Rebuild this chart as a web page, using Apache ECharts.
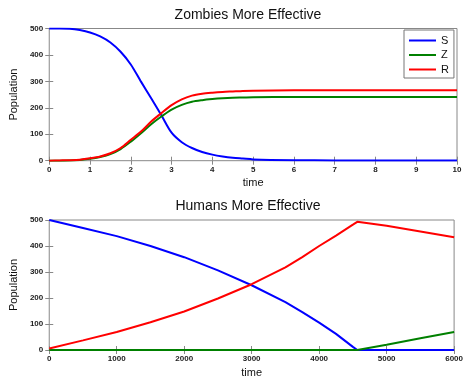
<!DOCTYPE html>
<html>
<head>
<meta charset="utf-8">
<script src="https://cdn.jsdelivr.net/npm/echarts@6/dist/echarts.min.js"></script>
<style>
html,body{margin:0;padding:0;background:#fff;}
#chart{width:466px;height:379px;}
</style>
</head>
<body>
<div id="chart"></div>
<script>
// ---- Data ----
var titles = ['Zombies More Effective', 'Humans More Effective'];
var seriesNames = ['S', 'Z', 'R'];

// Top panel: Zombies More Effective
var tTop = [0, 0.25, 0.5, 0.75, 1, 1.25, 1.5, 1.75, 2, 2.25, 2.5, 2.75, 3, 3.25, 3.5, 3.75, 4, 4.25, 4.5, 4.75, 5, 6, 7, 8, 9, 10];
var sTop = [500, 500, 499, 494, 485, 470, 447, 412, 364, 299, 236, 172, 106, 70, 48, 33, 23, 16, 11, 8, 5, 2, 1, 1, 1, 1];
var zTop = [0, 0, 1, 3, 7, 14, 25, 44, 72, 104, 138, 167, 193, 211, 223, 229, 233, 236, 238, 239, 240, 241, 241, 241, 241, 241];
var rTop = [0, 1, 2, 4, 9, 16, 28, 48, 79, 110, 148, 180, 210, 232, 246, 253, 257, 260, 262, 264, 265, 266, 266, 266, 266, 266];

// Bottom panel: Humans More Effective
var tBot = [0, 500, 1000, 1500, 2000, 2500, 3000, 3500, 3750, 4000, 4250, 4500, 4565, 4590, 5000, 5500, 6000];
var sBot = [500, 469, 438, 400, 357, 306, 249, 184, 146, 105, 62, 12, 0, 0, 0, 0, 0];
var zBot = [0, 0, 0, 0, 0, 0, 0, 0, 0, 0, 0, 0, 0, 0, 20, 45, 69];
var rBot = [6, 37, 69, 107, 148, 198, 253, 318, 357, 400, 440, 482, 493, 497, 478, 456, 434];

var xTopTicks = {min: 0, max: 10, interval: 1};
var xBotTicks = {min: 0, max: 6000, interval: 1000};
var yTicks = {min: 0, max: 500, interval: 100};

var colors = {S: '#0000ff', Z: '#008000', R: '#ff0000'};

function pairs(t, v) { return t.map(function (x, i) { return [x, v[i]]; }); }

var FONT = 'Liberation Sans, Arial, sans-serif';
var tickStyle = {show: true, inside: true, length: 4, lineStyle: {color: '#888', width: 1}};
var labelStyle = {fontSize: 8, fontWeight: 'bold', color: '#222', fontFamily: FONT,
                  formatter: function (v) { return String(v); }};

function xAxisDef(grid, tk, pos, withLabel) {
  return {
    type: 'value', gridIndex: grid, position: pos,
    min: tk.min, max: tk.max, interval: tk.interval,
    axisLine: {show: false}, splitLine: {show: false},
    axisTick: tickStyle,
    axisLabel: withLabel ? Object.assign({margin: 5}, labelStyle) : {show: false},
    name: withLabel ? 'time' : '', nameLocation: 'middle', nameGap: 17,
    nameTextStyle: {fontSize: 11, color: '#111', fontFamily: FONT}
  };
}
function yAxisDef(grid, pos, withLabel) {
  return {
    type: 'value', gridIndex: grid, position: pos,
    min: yTicks.min, max: yTicks.max, interval: yTicks.interval,
    axisLine: {show: false}, splitLine: {show: false},
    axisTick: tickStyle,
    axisLabel: withLabel ? Object.assign({margin: 6}, labelStyle) : {show: false},
    name: withLabel ? 'Population' : '', nameLocation: 'middle', nameGap: 21,
    nameTextStyle: {fontSize: 11, color: '#111', fontFamily: FONT}
  };
}

function lineSeries(name, data, xi, yi, smooth) {
  return {
    name: name, type: 'line', xAxisIndex: xi, yAxisIndex: yi,
    data: data, symbol: 'none', smooth: smooth,
    lineStyle: {color: colors[name], width: 2},
    itemStyle: {color: colors[name]},
    animation: false
  };
}

var chart = echarts.init(document.getElementById('chart'), null, {renderer: 'canvas'});
var linePath = 'path://M0,0 L27,0 L27,2 L0,2 Z';

chart.setOption({
  backgroundColor: '#fff',
  animation: false,
  title: [
    {text: titles[0], left: 248, top: 8, textAlign: 'center', padding: 0,
     textStyle: {fontSize: 14, fontWeight: 'normal', color: '#111', fontFamily: FONT}},
    {text: titles[1], left: 248, top: 199, textAlign: 'center', padding: 0,
     textStyle: {fontSize: 14, fontWeight: 'normal', color: '#111', fontFamily: FONT}}
  ],
  legend: {
    data: seriesNames.map(function (n) { return {name: n, icon: linePath}; }),
    orient: 'vertical', left: 404, top: 30,
    itemWidth: 27, itemHeight: 14, itemGap: 3.5,
    padding: [5, 5, 3, 5],
    borderColor: '#777', borderWidth: 1, backgroundColor: '#fff',
    textStyle: {fontSize: 11, color: '#111', fontFamily: FONT},
    selectedMode: false
  },
  grid: [
    {left: 39, right: 9, top: 28.5, bottom: 218.3, show: true, borderColor: '#888', borderWidth: 1, backgroundColor: 'transparent'},
    {left: 39, right: 9, top: 220, bottom: 27.3, show: true, borderColor: '#888', borderWidth: 1, backgroundColor: 'transparent'}
  ],
  xAxis: [
    xAxisDef(0, xTopTicks, 'bottom', true),
    xAxisDef(1, xBotTicks, 'bottom', true),
    xAxisDef(0, xTopTicks, 'top', false),
    xAxisDef(1, xBotTicks, 'top', false)
  ],
  yAxis: [
    yAxisDef(0, 'left', true),
    yAxisDef(1, 'left', true),
    yAxisDef(0, 'right', false),
    yAxisDef(1, 'right', false)
  ],
  series: [
    lineSeries('S', pairs(tTop, sTop), 0, 0, 0.3),
    lineSeries('Z', pairs(tTop, zTop), 0, 0, 0.3),
    lineSeries('R', pairs(tTop, rTop), 0, 0, 0.3),
    lineSeries('S', pairs(tBot, sBot), 1, 1, false),
    lineSeries('Z', pairs(tBot, zBot), 1, 1, false),
    lineSeries('R', pairs(tBot, rBot), 1, 1, false)
  ]
});
</script>
</body>
</html>
